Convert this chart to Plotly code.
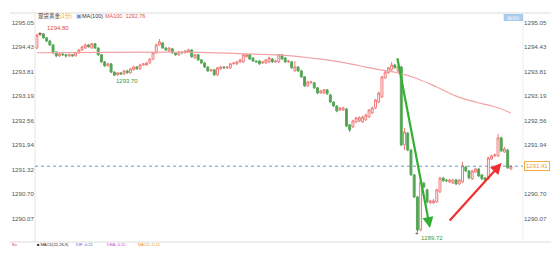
import plotly.graph_objects as go

# ---- data (1-minute candles, spot gold) ----
opens = [1294.41,1294.74,1294.77,1294.67,1294.59,1294.49,1294.31,1294.21,1294.26,1294.24,
         1294.21,1294.24,1294.21,1294.29,1294.36,1294.41,1294.49,1294.41,1294.52,1294.41,
         1294.24,1294.06,1293.96,1294.01,1293.80,1293.73,1293.78,1293.75,1293.83,1293.78,
         1293.86,1293.93,1293.88,1293.98,1293.98,1294.03,1294.13,1294.29,1294.49,1294.54,
         1294.41,1294.34,1294.39,1294.29,1294.24,1294.31,1294.29,1294.31,1294.36,1294.16,
         1294.24,1294.11,1294.03,1293.93,1293.83,1293.86,1293.73,1293.88,1293.93,1293.91,
         1293.91,1294.01,1294.01,1294.06,1294.06,1294.19,1294.24,1294.16,1294.08,1294.08,
         1294.03,1294.03,1294.06,1294.13,1294.06,1294.06,1294.24,1294.16,1294.06,1294.06,
         1293.83,1293.93,1293.83,1293.68,1293.45,1293.53,1293.53,1293.40,1293.27,1293.27,
         1293.35,1293.22,1293.04,1292.94,1292.84,1292.84,1292.86,1292.46,1292.41,1292.53,
         1292.56,1292.53,1292.59,1292.66,1292.76,1292.89,1293.04,1293.17,1293.65,1293.78,
         1293.86,1293.98,1293.83,1293.93,1291.95,1292.25,1291.82,1291.19,1290.63,1289.79,
         1290.98,1290.81,1290.48,1290.48,1290.50,1290.76,1291.11,1291.06,1291.01,1290.98,
         1291.06,1290.96,1291.01,1291.39,1291.29,1291.09,1291.26,1291.34,1291.19,1291.11,
         1291.09,1291.59,1291.67,1291.67,1292.13,1291.77,1291.82,1291.34]
highs = [1294.77,1294.80,1294.79,1294.69,1294.62,1294.51,1294.33,1294.29,1294.28,1294.26,
         1294.27,1294.25,1294.31,1294.39,1294.47,1294.52,1294.51,1294.54,1294.54,1294.43,
         1294.26,1294.08,1294.04,1294.03,1293.82,1293.80,1293.80,1293.85,1293.86,1293.91,
         1293.96,1293.95,1294.01,1294.03,1294.06,1294.16,1294.31,1294.52,1294.64,1294.57,
         1294.44,1294.44,1294.41,1294.31,1294.34,1294.33,1294.36,1294.39,1294.38,1294.26,
         1294.26,1294.13,1294.06,1293.95,1293.88,1293.88,1293.93,1293.96,1293.95,1293.95,
         1294.03,1294.06,1294.08,1294.13,1294.26,1294.27,1294.26,1294.18,1294.10,1294.11,
         1294.08,1294.13,1294.19,1294.16,1294.11,1294.26,1294.26,1294.18,1294.11,1294.08,
         1294.08,1293.95,1293.86,1293.70,1293.58,1293.58,1293.55,1293.42,1293.35,1293.37,
         1293.37,1293.25,1293.06,1292.96,1292.91,1292.92,1292.89,1292.48,1292.59,1292.66,
         1292.68,1292.69,1292.74,1292.86,1292.92,1293.12,1293.30,1293.70,1293.83,1293.93,
         1294.06,1294.01,1293.96,1293.96,1292.38,1292.28,1291.85,1291.21,1290.66,1291.06,
         1291.01,1290.84,1290.56,1290.58,1290.84,1291.14,1291.14,1291.09,1291.09,1291.09,
         1291.09,1291.09,1291.52,1291.42,1291.31,1291.32,1291.37,1291.37,1291.21,1291.14,
         1291.65,1291.70,1291.73,1292.23,1292.16,1291.90,1291.85,1291.44]
lows = [1294.38,1294.72,1294.64,1294.56,1294.46,1294.25,1294.18,1294.19,1294.21,1294.17,
        1294.19,1294.19,1294.20,1294.27,1294.34,1294.39,1294.42,1294.39,1294.39,1294.21,
        1294.03,1293.93,1293.94,1293.77,1293.70,1293.71,1293.73,1293.73,1293.76,1293.76,
        1293.84,1293.86,1293.86,1293.96,1293.96,1294.01,1294.11,1294.26,1294.47,1294.39,
        1294.34,1294.31,1294.26,1294.21,1294.21,1294.26,1294.27,1294.29,1294.16,1294.14,
        1294.08,1294.00,1293.90,1293.80,1293.81,1293.70,1293.71,1293.86,1293.88,1293.88,
        1293.88,1293.99,1293.98,1294.03,1294.03,1294.17,1294.11,1294.06,1294.03,1293.98,
        1294.01,1294.01,1294.03,1294.03,1294.03,1294.03,1294.11,1294.03,1294.03,1293.88,
        1293.81,1293.80,1293.65,1293.42,1293.42,1293.50,1293.37,1293.24,1293.25,1293.24,
        1293.22,1293.01,1292.91,1292.78,1292.81,1292.81,1292.40,1292.28,1292.38,1292.51,
        1292.53,1292.51,1292.56,1292.64,1292.74,1292.86,1293.01,1293.14,1293.63,1293.75,
        1293.83,1293.88,1293.80,1291.92,1291.82,1291.79,1291.16,1290.60,1289.72,1289.76,
        1290.85,1290.46,1290.45,1290.45,1290.48,1290.73,1291.01,1291.00,1290.98,1290.96,
        1290.93,1290.93,1290.98,1291.26,1291.08,1291.06,1291.24,1291.14,1291.06,1291.03,
        1291.06,1291.57,1291.65,1291.65,1291.77,1291.75,1291.34,1291.32]
closes = [1294.74,1294.78,1294.67,1294.59,1294.49,1294.29,1294.21,1294.26,1294.24,1294.21,
          1294.24,1294.21,1294.29,1294.36,1294.44,1294.49,1294.44,1294.52,1294.41,1294.24,
          1294.06,1293.96,1294.01,1293.80,1293.72,1293.78,1293.75,1293.83,1293.78,1293.88,
          1293.93,1293.88,1293.98,1294.01,1294.03,1294.13,1294.29,1294.49,1294.57,1294.41,
          1294.36,1294.41,1294.29,1294.24,1294.31,1294.29,1294.34,1294.36,1294.19,1294.24,
          1294.11,1294.03,1293.93,1293.83,1293.86,1293.73,1293.91,1293.93,1293.91,1293.93,
          1294.01,1294.03,1294.06,1294.11,1294.24,1294.24,1294.13,1294.08,1294.06,1294.01,
          1294.06,1294.11,1294.16,1294.06,1294.08,1294.24,1294.13,1294.06,1294.08,1293.91,
          1293.93,1293.83,1293.68,1293.45,1293.55,1293.55,1293.40,1293.27,1293.32,1293.35,
          1293.25,1293.04,1292.94,1292.81,1292.89,1292.89,1292.43,1292.33,1292.56,1292.64,
          1292.64,1292.66,1292.71,1292.84,1292.89,1293.09,1293.27,1293.68,1293.80,1293.91,
          1293.98,1293.91,1293.93,1291.95,1292.28,1291.82,1291.19,1290.63,1289.79,1291.01,
          1290.88,1290.50,1290.53,1290.53,1290.81,1291.11,1291.04,1291.04,1291.06,1291.06,
          1290.96,1291.06,1291.42,1291.29,1291.11,1291.29,1291.34,1291.16,1291.09,1291.06,
          1291.62,1291.67,1291.70,1292.13,1291.80,1291.85,1291.37,1291.41]

ma_idx = [0, 50, 66, 78, 88, 94, 100, 106, 112, 118, 124, 130, 136, 142, 147]
ma_val = [1294.29, 1294.30, 1294.26, 1294.22, 1294.13, 1294.06, 1293.96, 1293.86,
          1293.78, 1293.63, 1293.42, 1293.19, 1293.04, 1292.92, 1292.76]

tick_vals = [1295.05, 1294.43, 1293.81, 1293.19, 1292.56, 1291.94, 1291.32, 1290.70, 1290.07]
tick_text = ["1295.05", "1294.43", "1293.81", "1293.19", "1292.56", "1291.94", "1291.32", "1290.70", "1290.07"]

last_price = 1291.41
ma_last = 1292.76
high_mark = (1, 1294.80)
low_mark1 = (24, 1293.70)
low_mark2 = (118, 1289.72)

green_arrow = [(111.7, 1294.19), (121.9, 1289.84)]
red_arrow = [(127.6, 1289.99), (144.1, 1291.49)]

idx = list(range(len(closes)))

fig = go.Figure()
fig.add_trace(go.Scatter(x=ma_idx, y=ma_val, mode="lines", line=dict(color="#f2a3a3", width=1.2, shape="spline"),
                         hoverinfo="skip", showlegend=False))
fig.add_trace(go.Candlestick(
    x=idx, open=opens, high=highs, low=lows, close=closes,
    increasing=dict(line=dict(color="#f07a7a", width=1), fillcolor="#ffffff"),
    decreasing=dict(line=dict(color="#5aa85a", width=1), fillcolor="#4f9f4f"),
    whiskerwidth=0, showlegend=False))
# invisible trace for right axis
fig.add_trace(go.Scatter(x=[0], y=[tick_vals[0]], yaxis="y2", mode="markers",
                         marker=dict(opacity=0), hoverinfo="skip", showlegend=False))

yr = [1289.485, 1295.30]
fig.update_layout(
    width=559, height=262,
    margin=dict(l=26, r=29, t=13, b=20),
    paper_bgcolor="white", plot_bgcolor="white",
    boxgap=0.15,
    font=dict(family="Liberation Sans, Arial, sans-serif", size=6, color="#555"),
    xaxis=dict(range=[-0.6, 150.75], showgrid=False, showticklabels=False, zeroline=False,
               rangeslider=dict(visible=False), showline=False, ticks=""),
    yaxis=dict(range=yr, tickvals=tick_vals, ticktext=tick_text, showgrid=False, zeroline=False,
               showline=False, ticks="", tickfont=dict(size=6.2, color="#555")),
    yaxis2=dict(range=yr, overlaying="y", side="right", anchor="x",
                tickvals=[v for v in tick_vals if v != 1291.32],
                ticktext=[t for v, t in zip(tick_vals, tick_text) if v != 1291.32],
                showgrid=False, zeroline=False, showline=False, ticks="",
                tickfont=dict(size=6.2, color="#555")),
)

shapes = []
# frame lines
shapes.append(dict(type="line", xref="paper", yref="paper", x0=-26/504, x1=533/504, y0=1, y1=1,
                   line=dict(color="#dcdcdc", width=1)))
shapes.append(dict(type="line", xref="paper", yref="paper", x0=-26/504, x1=533/504, y0=0, y1=0,
                   line=dict(color="#dcdcdc", width=1)))
shapes.append(dict(type="line", xref="paper", yref="paper", x0=0, x1=0, y0=0, y1=1,
                   line=dict(color="#e4e4e4", width=1)))
shapes.append(dict(type="line", xref="paper", yref="paper", x0=1, x1=1, y0=0, y1=1,
                   line=dict(color="#eeeeee", width=1)))
# last price dotted line
shapes.append(dict(type="line", xref="paper", yref="y", x0=0, x1=1, y0=last_price, y1=last_price,
                   line=dict(color="#5b9bd5", width=1, dash="dot")))
# top-right icon box
shapes.append(dict(type="rect", xref="paper", yref="paper", x0=(510-26)/504, x1=(530-26)/504,
                   y0=(242-21)/229, y1=(242-14)/229, fillcolor="#a9cbec", line=dict(width=0)))
fig.update_layout(shapes=shapes)

ann = []
ann.append(dict(xref="paper", yref="paper", x=1/504, y=(242-16)/229, xanchor="left", yanchor="middle",
                text="现货黄金<span style='color:#f0a030'>(1分)</span>", showarrow=False,
                font=dict(size=5.5, color="#333", family="Noto Sans CJK SC")))
ann.append(dict(xref="paper", yref="paper", x=(66-26)/504, y=(242-16)/229, xanchor="left", yanchor="middle",
                text="<span style='color:#6a8fd8'>▣</span>MA(100)", showarrow=False,
                font=dict(size=5.5, color="#333")))
ann.append(dict(xref="paper", yref="paper", x=(96-26)/504, y=(242-16)/229, xanchor="left", yanchor="middle",
                text="MA100  %.2f" % ma_last, showarrow=False, font=dict(size=5.5, color="#e05050")))
ann.append(dict(xref="paper", yref="paper", x=(520-26)/504, y=(242-17.5)/229, xanchor="center", yanchor="middle",
                text="⊟⊡⊡", showarrow=False, font=dict(size=5, color="#ffffff")))
# high / low marks
ann.append(dict(x=high_mark[0], y=high_mark[1], text="+", showarrow=False, xanchor="center", yanchor="middle",
                font=dict(size=6, color="#333")))
ann.append(dict(x=high_mark[0] + 1.5, y=high_mark[1], text="%.2f" % high_mark[1], showarrow=False,
                xanchor="left", yanchor="bottom", font=dict(size=6, color="#e05050")))
ann.append(dict(x=low_mark1[0], y=low_mark1[1], text="%.2f" % low_mark1[1], showarrow=False,
                xanchor="left", yanchor="top", font=dict(size=6, color="#3a9a3a")))
ann.append(dict(x=low_mark2[0], y=low_mark2[1], text="+", showarrow=False, xanchor="center", yanchor="middle",
                font=dict(size=6, color="#333")))
ann.append(dict(x=low_mark2[0] + 0.5, y=low_mark2[1], text="%.2f" % low_mark2[1], showarrow=False,
                xanchor="left", yanchor="top", font=dict(size=6, color="#3a9a3a")))
# last price box on right axis
ann.append(dict(xref="paper", yref="y", x=1.0, y=last_price, xanchor="left", yanchor="middle",
                text="%.2f" % last_price, showarrow=False, xshift=1,
                font=dict(size=6, color="#f0a030"), bordercolor="#f5b041", borderwidth=1,
                bgcolor="#ffffff", borderpad=1))
# trend arrows
ann.append(dict(x=green_arrow[1][0], y=green_arrow[1][1], ax=green_arrow[0][0], ay=green_arrow[0][1],
                axref="x", ayref="y", xref="x", yref="y", showarrow=True, arrowhead=2, arrowsize=1,
                arrowwidth=2.2, arrowcolor="#32b032", text=""))
ann.append(dict(x=red_arrow[1][0], y=red_arrow[1][1], ax=red_arrow[0][0], ay=red_arrow[0][1],
                axref="x", ayref="y", xref="x", yref="y", showarrow=True, arrowhead=2, arrowsize=1,
                arrowwidth=2.2, arrowcolor="#f03030", text=""))
# bottom indicator strip (tiny)
bottom = [("Bo", 0, "#e05050"), ("■ MACD(12,26,9)", 26, "#222"),
          ("DIF:-0.21", 66, "#6060d0"), ("DEA:-0.15", 98, "#d040d0"),
          ("MACD:-0.12", 130, "#f09020")]
for t, px, c in bottom:
    ann.append(dict(xref="paper", yref="paper", x=(px - 26)/504, y=-(245-242)/229, xanchor="left",
                    yanchor="middle", text=t, showarrow=False, font=dict(size=4, color=c)))
fig.update_layout(annotations=ann)

fig.write_html("out.html")
